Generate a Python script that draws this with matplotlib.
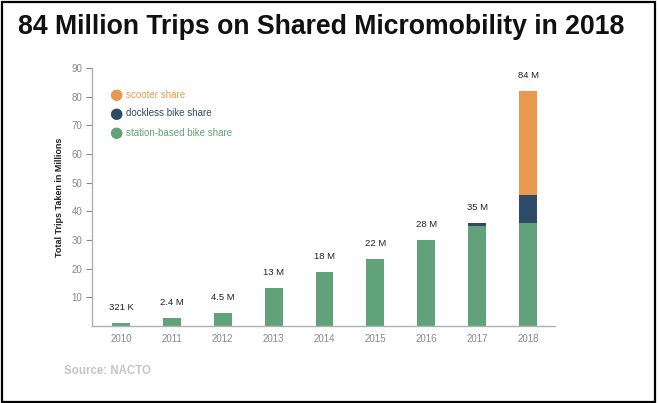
import matplotlib
matplotlib.use("Agg")
import matplotlib.pyplot as plt
from matplotlib.patches import Rectangle
import numpy as np

years = ["2010", "2011", "2012", "2013", "2014", "2015", "2016", "2017", "2018"]
station = [1.0, 2.8, 4.6, 13.2, 18.7, 23.2, 29.9, 34.8, 36.0]
dockless = [0, 0, 0, 0, 0, 0, 0, 1.2, 9.6]
scooter = [0, 0, 0, 0, 0, 0, 0, 0, 36.4]
labels = ["321 K", "2.4 M", "4.5 M", "13 M", "18 M", "22 M", "28 M", "35 M", "84 M"]
series_names = ["scooter share", "dockless bike share", "station-based bike share"]
yticks = [10, 20, 30, 40, 50, 60, 70, 80, 90]

GREEN = "#62a27a"
NAVY = "#2f4a66"
ORANGE = "#e8994f"

W, H = 658, 403
fig = plt.figure(figsize=(W / 100, H / 100), dpi=100)
fig.patch.set_facecolor("white")

# border
fig.add_artist(Rectangle((1.5 / W, 1.5 / H), (W - 5) / W, (H - 3) / H,
                         transform=fig.transFigure, fill=False,
                         edgecolor="black", linewidth=1.6))

ax = fig.add_axes([92 / W, (H - 326) / H, (555 - 92) / W, (326 - 68) / H])
x = np.arange(len(years))
bw = 0.35
st = np.array(station)
dk = np.array(dockless)
sc = np.array(scooter)
ax.bar(x, st, width=bw, color=GREEN, zorder=2)
ax.bar(x, dk, width=bw, bottom=st, color=NAVY, zorder=2)
ax.bar(x, sc, width=bw, bottom=st + dk, color=ORANGE, zorder=2)

totals = st + dk + sc
for xi, t, lab in zip(x, totals, labels):
    ax.annotate(lab, (xi, t), xytext=(0, 11), textcoords="offset pixels",
                ha="center", va="bottom", fontsize=6.8, color="#222222",
                family="Liberation Sans")

ax.set_xlim(-0.57, 8.53)
ax.set_ylim(0, 90)
ax.set_xticks(x)
ax.set_xticklabels(years)
ax.set_yticks(yticks)
for s in ["top", "right"]:
    ax.spines[s].set_visible(False)
for s in ["left", "bottom"]:
    ax.spines[s].set_color("#b0b0b0")
    ax.spines[s].set_linewidth(1.0)
ax.tick_params(axis="y", length=4, width=0.8, color="#888888", labelcolor="#888888",
               labelsize=7, pad=3)
ax.tick_params(axis="x", length=0, labelcolor="#888888", labelsize=7, pad=6)
for lab in ax.get_xticklabels() + ax.get_yticklabels():
    lab.set_family("Liberation Sans")

ax.set_ylabel("Total Trips Taken in Millions", fontsize=6.5, fontweight="bold",
              color="#222222", family="Liberation Sans", labelpad=5)

# legend
leg_colors = [ORANGE, NAVY, GREEN]
leg_y = [94.7, 113.3, 132.7]
for name, c, yy in zip(series_names, leg_colors, leg_y):
    fig.text(116 / W, 1 - yy / H, "\u25CF", color=c, fontsize=11, ha="center",
             va="center", family="DejaVu Sans")
    fig.text(126 / W, 1 - yy / H, name, color=c, fontsize=7, ha="left",
             va="center", family="Liberation Sans")

fig.text(18 / W, 1 - 27 / H, "84 Million Trips on Shared Micromobility in 2018",
         fontsize=19.2, fontweight="bold", color="#111111", ha="left", va="center",
         family="Liberation Sans")

fig.text(64 / W, 1 - 371 / H, "Source: NACTO", fontsize=8.3, fontweight="bold",
         color="#c4c4c4", ha="left", va="center", family="Liberation Sans")

fig.savefig("out.png", dpi=100)
